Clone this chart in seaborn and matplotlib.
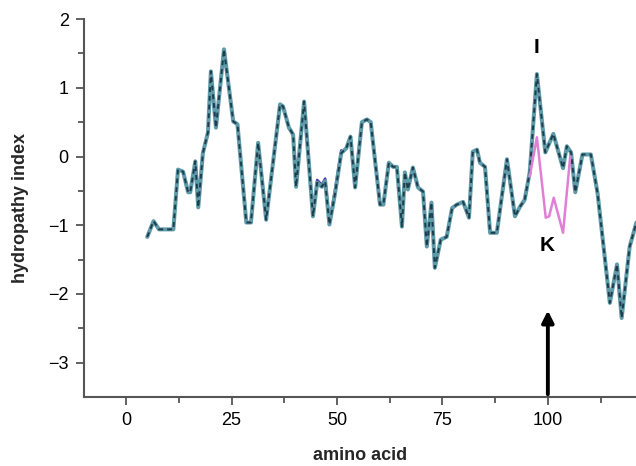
import numpy as np
import pandas as pd
import matplotlib
matplotlib.use("Agg")
import matplotlib.pyplot as plt
import seaborn as sns

# hydropathy profile (wild type)
amino_acid = [5, 6.5, 7.8, 11.2, 12.3, 13.5, 14.7, 15.2, 16.4, 17.1, 18.2, 19.4,
              20.1, 21.3, 23.2, 25.4, 26.4, 28.5, 29.6, 31.3, 33.2, 36.5, 37.2,
              38.6, 39.6, 40.3, 42.2, 44.3, 45.3, 46.4, 47.2, 48.2, 49.5, 51.0,
              52.2, 53.2, 54.3, 55.9, 57.1, 58.0, 60.2, 61.0, 62.3, 63.3, 64.2,
              65.4, 66.1, 66.8, 68.0, 69.2, 70.4, 71.3, 72.4, 73.2, 74.6, 76.0,
              77.3, 78.4, 79.9, 81.3, 82.2, 83.2, 83.9, 85.1, 86.3, 87.9, 90.3,
              92.2, 93.4, 94.5, 95.7, 97.4, 99.4, 101.3, 103.6, 104.5, 105.5,
              106.5, 108.2, 110.2, 111.8, 114.7, 116.4, 117.5, 119.4, 121]
hydropathy = [-1.17, -0.94, -1.06, -1.06, -0.19, -0.22, -0.52, -0.52, -0.07, -0.74,
              0.05, 0.35, 1.24, 0.42, 1.56, 0.51, 0.47, -0.96, -0.96, 0.2, -0.92,
              0.76, 0.73, 0.42, 0.32, -0.44, 0.8, -0.87, -0.38, -0.44, -0.36,
              -0.99, -0.55, 0.05, 0.12, 0.29, -0.45, 0.5, 0.54, 0.5, -0.7, -0.7,
              -0.09, -0.15, -0.15, -1.02, -0.23, -0.48, -0.16, -0.45, -0.51,
              -1.31, -0.67, -1.62, -1.21, -1.17, -0.75, -0.7, -0.66, -0.89, 0.07,
              0.1, -0.09, -0.15, -1.11, -1.11, -0.04, -0.87, -0.73, -0.63, -0.23,
              1.2, 0.06, 0.33, -0.17, 0.15, 0.06, -0.52, 0.03, 0.03, -0.54, -2.13,
              -1.57, -2.35, -1.31, -0.96]

# variant with the I -> K substitution (pink)
k_amino_acid = [95.7, 97.4, 99.5, 100.3, 101.4, 103.6, 105.3]
k_hydropathy = [-0.29, 0.28, -0.89, -0.87, -0.6, -1.11, 0.0]

# small variant segment (purple) around residues 44-51
v_amino_acid = [44.3, 45.3, 46.4, 47.2, 48.2, 49.5, 51.0]
v_hydropathy = [-0.84, -0.34, -0.41, -0.32, -0.96, -0.5, 0.09]

wt = pd.DataFrame({"amino acid": amino_acid, "hydropathy index": hydropathy})
mut = pd.DataFrame({"amino acid": k_amino_acid, "hydropathy index": k_hydropathy})
var = pd.DataFrame({"amino acid": v_amino_acid, "hydropathy index": v_hydropathy})

sns.set_style("ticks")
plt.rcParams['font.family'] = ['Liberation Sans', 'DejaVu Sans']
plt.rcParams['text.color'] = 'black'
plt.rcParams['xtick.labelcolor'] = 'black'
plt.rcParams['ytick.labelcolor'] = 'black'
plt.rcParams['lines.solid_joinstyle'] = 'round'
plt.rcParams['lines.solid_capstyle'] = 'round'

fig = plt.figure(figsize=(6.36, 4.66), dpi=100)
ax = fig.add_axes([0.132, 0.148, 0.868, 0.811])

sns.lineplot(data=var, x="amino acid", y="hydropathy index", ax=ax,
             color="#4b3bb0", linewidth=1.8, sort=False)
sns.lineplot(data=wt, x="amino acid", y="hydropathy index", ax=ax,
             color="#5f9aa8", linewidth=2.9, sort=False)
sns.lineplot(data=wt, x="amino acid", y="hydropathy index", ax=ax,
             color="#1e3d4c", linewidth=1.4, sort=False)
ax.lines[-1].set_dashes([2.5, 2])
sns.lineplot(data=mut, x="amino acid", y="hydropathy index", ax=ax,
             color="#e07fd6", linewidth=1.8, sort=False)

ax.text(97.4, 1.58, "I", fontsize=15, fontweight="bold", ha="center", va="center")
ax.text(99.8, -1.3, "K", fontsize=15, fontweight="bold", ha="center", va="center")
ax.annotate("", xy=(100, -2.2), xytext=(100, -3.5),
            arrowprops=dict(arrowstyle="-|>,head_width=0.35,head_length=0.7",
                            color="black", lw=2.8), annotation_clip=False)

ax.set_xlim(-10, 120.9)
ax.set_ylim(-3.5, 2)
ax.set_xticks([0, 25, 50, 75, 100])
ax.set_xticks([12.5, 37.5, 62.5, 87.5, 112.5], minor=True)
ax.set_yticks([-3, -2, -1, 0, 1, 2])
ax.set_yticklabels(["\u22123", "\u22122", "\u22121", "0", "1", "2"])
ax.set_yticks([-2.5, -1.5, -0.5, 0.5, 1.5], minor=True)
ax.tick_params(which="major", length=6, width=1.3, color="#555555",
               labelsize=13, pad=5)
ax.tick_params(which="minor", length=4, width=1.3, color="#555555")
for s in ["left", "bottom"]:
    ax.spines[s].set_color("#555555")
    ax.spines[s].set_linewidth(1.5)
sns.despine(ax=ax)

ax.set_xlabel("amino acid", fontsize=13, fontweight="bold", labelpad=13)
ax.set_ylabel("hydropathy index", fontsize=13, fontweight="bold", labelpad=14)

fig.savefig("out.png", dpi=100)
